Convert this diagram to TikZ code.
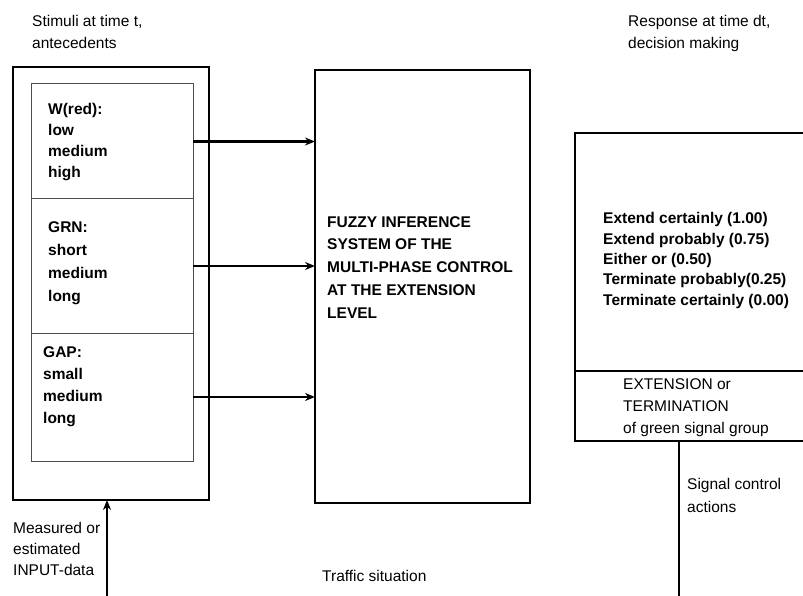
\documentclass[tikz,border=0pt]{standalone}
\usepackage{fontspec}
\setmainfont{Liberation Sans}
\usetikzlibrary{arrows.meta, positioning}

\begin{document}
\begin{tikzpicture}[
  x=1pt, y=-1pt,
  node distance=0pt, % stacked fuzzy sets share their borders
  frame/.style={rectangle, draw=black, line width=2.7pt, outer sep=0pt, inner sep=0pt},
  fuzzset/.style={rectangle, draw=black!70, line width=1pt, outer sep=0pt, inner sep=0pt, minimum width=162pt},
  txt/.style={anchor=base west, inner sep=0pt, align=left, font=\fontsize{15.5}{21.5}\selectfont},
  btxt/.style={anchor=base west, inner sep=0pt, align=left, font=\fontsize{15.5}{22}\selectfont\bfseries},
  flow/.style={-{Stealth[length=10pt,width=8pt]}, line width=2.2pt}
]
\useasboundingbox (0,0) rectangle (803,596);
\clip (0,0) rectangle (803,596);

% Stimuli (antecedents) -- text nodes sit on the baseline of their last line
\node[frame, minimum width=196pt, minimum height=433pt] (stim) at (111,283.5) {};
\node[fuzzset, minimum height=115pt] (wred) at (112,141.5) {};
\node[fuzzset, minimum height=134pt, below=of wred] (grn) {};
\node[fuzzset, minimum height=128pt, below=of grn] (gap) {};
\node[txt] (stimlbl) at (32,48.5) {Stimuli at time t,\\antecedents};
\node[btxt, font=\fontsize{15.5}{21}\selectfont\bfseries] (wredtxt) at (48,178) {W(red):\\low\\medium\\high};
\node[btxt, font=\fontsize{15.5}{22.7}\selectfont\bfseries] (grntxt) at (48,301) {GRN:\\short\\medium\\long};
\node[btxt] (gaptxt) at (43,423) {GAP:\\small\\medium\\long};

% Fuzzy inference system
\node[frame, minimum width=215pt, minimum height=433pt] (fis) at (422.5,286.5) {};
\node[btxt, font=\fontsize{15.5}{22.7}\selectfont\bfseries] (fistxt) at (327,318)
  {FUZZY INFERENCE\\SYSTEM OF THE\\MULTI-PHASE CONTROL\\AT THE EXTENSION\\LEVEL};

\draw[flow] (wred.east) -- (wred.east -| fis.west);
\draw[flow] (grn.east) -- (grn.east -| fis.west);
\draw[flow] (gap.east) -- (gap.east -| fis.west);

% Response (decision making), runs off the right edge
\node[frame, minimum width=260pt, minimum height=308pt] (resp) at (705,287) {};
\coordinate (split) at (575,371);
\draw[line width=1.6pt] (split) -- (split -| resp.east);
\node[txt] (resplbl) at (628,48.5) {Response at time dt,\\decision making};
\node[btxt, font=\fontsize{15.5}{20.3}\selectfont\bfseries] (opts) at (603,305)
  {Extend certainly (1.00)\\Extend probably (0.75)\\Either or (0.50)\\Terminate probably(0.25)\\Terminate certainly (0.00)};
\node[txt, font=\fontsize{15.5}{22}\selectfont] (decis) at (623,433)
  {EXTENSION or\\TERMINATION\\of green signal group};

% Input and output lines
\coordinate (inbeg) at (107,596);
\draw[flow, line width=2.7pt] (inbeg) -- (inbeg |- stim.south);
\node[txt, font=\fontsize{15.5}{21}\selectfont] (inlbl) at (13,575) {Measured or\\estimated\\INPUT-data};

\coordinate (outend) at (679,596);
\draw[line width=2.7pt] (resp.south -| outend) -- (outend);
\node[txt, font=\fontsize{15.5}{23}\selectfont] (actlbl) at (687,512) {Signal control\\actions};

\node[txt] (traffic) at (322,581) {Traffic situation};

\end{tikzpicture}
\end{document}
